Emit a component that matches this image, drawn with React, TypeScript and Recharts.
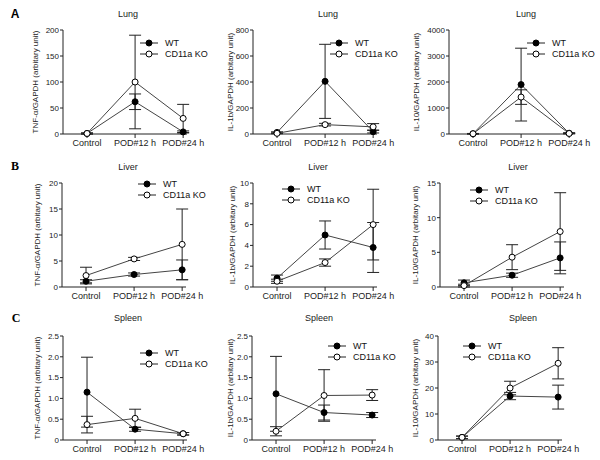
import React from "react";
import { LineChart, Line, XAxis, YAxis, ErrorBar, Legend } from "recharts";

// -------------------------------
// Data
// -------------------------------
const categories = ["Control", "POD#12 h", "POD#24 h"];
const seriesNames = ["WT", "CD11a KO"];

// Lung
const lungTnfWt = [1, 62, 4];
const lungTnfWtErr = [1, 15, 2];
const lungTnfKo = [1, 100, 30];
const lungTnfKoErr = [1, 90, 27];
const lungIl1bWt = [12, 405, 18];
const lungIl1bWtErr = [5, 285, 10];
const lungIl1bKo = [5, 72, 55];
const lungIl1bKoErr = [3, 10, 25];
const lungIl10Wt = [10, 1900, 30];
const lungIl10WtErr = [10, 1400, 20];
const lungIl10Ko = [10, 1420, 20];
const lungIl10KoErr = [10, 280, 10];

// Liver
const liverTnfWt = [1.1, 2.4, 3.3];
const liverTnfWtErr = [0.3, 0.3, 1.9];
const liverTnfKo = [2.2, 5.4, 8.2];
const liverTnfKoErr = [1.6, 0.3, 6.8];
const liverIl1bWt = [0.85, 5.0, 3.8];
const liverIl1bWtErr = [0.3, 1.35, 2.4];
const liverIl1bKo = [0.55, 2.35, 6.0];
const liverIl1bKoErr = [0.2, 0.35, 3.4];
const liverIl10Wt = [0.6, 1.7, 4.2];
const liverIl10WtErr = [0.4, 0.3, 2.3];
const liverIl10Ko = [0.2, 4.3, 8.0];
const liverIl10KoErr = [0.2, 1.8, 5.6];

// Spleen
const spleenTnfWt = [1.15, 0.26, 0.15];
const spleenTnfWtErr = [0.84, 0.05, 0.03];
const spleenTnfKo = [0.37, 0.52, 0.15];
const spleenTnfKoErr = [0.2, 0.22, 0.03];
const spleenIl1bWt = [1.11, 0.66, 0.6];
const spleenIl1bWtErr = [0.9, 0.18, 0.06];
const spleenIl1bKo = [0.21, 1.07, 1.08];
const spleenIl1bKoErr = [0.11, 0.62, 0.13];
const spleenIl10Wt = [1, 16.9, 16.5];
const spleenIl10WtErr = [0.5, 1.4, 4.6];
const spleenIl10Ko = [1, 20, 29.5];
const spleenIl10KoErr = [0.5, 2.6, 6];

// tick lists
const ticksLungTnf = [0, 50, 100, 150, 200];
const ticksLungIl1b = [0, 200, 400, 600, 800];
const ticksLungIl10 = [0, 1000, 2000, 3000, 4000];
const ticksLiverTnf = [0, 5, 10, 15, 20];
const ticksLiverIl1b = [0, 2, 4, 6, 8, 10];
const ticksLiverIl10 = [0, 5, 10, 15];
const ticksSpleen = [0, 0.5, 1.0, 1.5, 2.0, 2.5];
const ticksSpleenIl10 = [0, 10, 20, 30, 40];

// -------------------------------
// Layout constants
// -------------------------------
const FONT = "'Liberation Sans', Arial, sans-serif";
const Y_W = 50;
const M_TOP = 10;
const M_RIGHT = 25;
const X_H = 25;
const PLOT_W = 124;
const PLOT_H = 104;
const CW = Y_W + PLOT_W + M_RIGHT;
const CH = M_TOP + PLOT_H + X_H;

const TNF = "TNF-α/GAPDH (arbitary unit)";
const IL1B = "IL-1b/GAPDH (arbitary unit)";
const IL10 = "IL-10/GAPDH (arbitary unit)";

const panels = [
  { title: "Lung", yLabel: TNF, wt: lungTnfWt, wtErr: lungTnfWtErr, ko: lungTnfKo, koErr: lungTnfKoErr, ticks: ticksLungTnf,
    left: 63, top: 30, titleX: 128, titleY: 14, labelDx: 28, legX: 140, legY: 42 },
  { title: "Lung", yLabel: IL1B, wt: lungIl1bWt, wtErr: lungIl1bWtErr, ko: lungIl1bKo, koErr: lungIl1bKoErr, ticks: ticksLungIl1b,
    left: 253, top: 30, titleX: 328, titleY: 14, labelDx: 23, legX: 330, legY: 42 },
  { title: "Lung", yLabel: IL10, wt: lungIl10Wt, wtErr: lungIl10WtErr, ko: lungIl10Ko, koErr: lungIl10KoErr, ticks: ticksLungIl10,
    left: 449, top: 30, titleX: 526, titleY: 14, labelDx: 33, legX: 527, legY: 42 },
  { title: "Liver", yLabel: TNF, wt: liverTnfWt, wtErr: liverTnfWtErr, ko: liverTnfKo, koErr: liverTnfKoErr, ticks: ticksLiverTnf,
    left: 62, top: 183, titleX: 128, titleY: 167, labelDx: 25, legX: 138, legY: 183 },
  { title: "Liver", yLabel: IL1B, wt: liverIl1bWt, wtErr: liverIl1bWtErr, ko: liverIl1bKo, koErr: liverIl1bKoErr, ticks: ticksLiverIl1b,
    left: 253, top: 183, titleX: 318, titleY: 167, labelDx: 21, legX: 282, legY: 188 },
  { title: "Liver", yLabel: IL10, wt: liverIl10Wt, wtErr: liverIl10WtErr, ko: liverIl10Ko, koErr: liverIl10KoErr, ticks: ticksLiverIl10,
    left: 440, top: 183, titleX: 518, titleY: 167, labelDx: 25, legX: 470, legY: 189 },
  { title: "Spleen", yLabel: TNF, wt: spleenTnfWt, wtErr: spleenTnfWtErr, ko: spleenTnfKo, koErr: spleenTnfKoErr, ticks: ticksSpleen,
    left: 63, top: 336, titleX: 128, titleY: 318, labelDx: 26, legX: 140, legY: 352, decimals: true },
  { title: "Spleen", yLabel: IL1B, wt: spleenIl1bWt, wtErr: spleenIl1bWtErr, ko: spleenIl1bKo, koErr: spleenIl1bKoErr, ticks: ticksSpleen,
    left: 252, top: 336, titleX: 319, titleY: 318, labelDx: 22, legX: 328, legY: 345, decimals: true },
  { title: "Spleen", yLabel: IL10, wt: spleenIl10Wt, wtErr: spleenIl10WtErr, ko: spleenIl10Ko, koErr: spleenIl10KoErr, ticks: ticksSpleenIl10,
    left: 438, top: 336, titleX: 523, titleY: 318, labelDx: 23, legX: 463, legY: 345 },
];

const letters = [
  { text: "A", x: 15, y: 14, font: FONT },
  { text: "B", x: 15, y: 166, font: "'Liberation Serif', serif" },
  { text: "C", x: 16, y: 318, font: "'Liberation Serif', serif" },
];

// legend keeps WT on top, like the figure
const renderLegend = (props: any) => {
  const items = [...(props.payload || [])].sort(
    (a: any, b: any) => seriesNames.indexOf(a.value) - seriesNames.indexOf(b.value)
  );
  return (
    <div style={{ fontSize: 9, fontFamily: FONT, color: "#111" }}>
      {items.map((e: any) => (
        <div key={e.value} style={{ display: "flex", alignItems: "center", height: 11 }}>
          <svg width={18} height={8} style={{ display: "block" }}>
            <line x1={0} y1={4} x2={18} y2={4} stroke="#222" strokeWidth={1} />
            <circle cx={9} cy={4} r={3} fill={e.value === "WT" ? "#000" : "#fff"} stroke="#000" strokeWidth={1} />
          </svg>
          <span style={{ marginLeft: 7, whiteSpace: "nowrap" }}>{e.value}</span>
        </div>
      ))}
    </div>
  );
};

const Panel = ({ p }: { p: any }) => {
  const data = categories.map((c, i) => ({
    x: i,
    name: c,
    wt: p.wt[i],
    wtErr: p.wtErr[i],
    ko: p.ko[i],
    koErr: p.koErr[i],
  }));
  const left = p.left - Y_W;
  const top = p.top - M_TOP;
  const yMax = p.ticks[p.ticks.length - 1];
  const fmt = (v: number) => (p.decimals && v !== 0 ? v.toFixed(1) : String(v));

  const yLabel = (lp: any) => {
    const vb = lp.viewBox || {};
    const cx = Y_W - p.labelDx;
    const cy = (vb.y ?? M_TOP) + (vb.height ?? PLOT_H) / 2;
    return (
      <text x={cx} y={cy} transform={`rotate(-90 ${cx} ${cy})`} textAnchor="middle"
        dominantBaseline="central" fontSize={8} fontFamily={FONT} fill="#222">
        {p.yLabel}
      </text>
    );
  };

  return (
    <>
      <div style={{ position: "absolute", left, top }}>
        <LineChart width={CW} height={CH} data={data}
          margin={{ top: M_TOP, right: M_RIGHT, bottom: 0, left: 0 }}
          style={{ fontFamily: FONT, overflow: "visible" }}>
          <XAxis dataKey="x" type="number" domain={[-0.5, 2.08]} ticks={[0, 1, 2]}
            tickFormatter={(v: number) => categories[v]} interval={0} height={X_H}
            axisLine={{ stroke: "#222" }} tickLine={{ stroke: "#222" }} tickSize={4}
            tick={{ fontSize: 9, fill: "#222", fontFamily: FONT }} allowDataOverflow />
          <YAxis type="number" domain={[0, yMax]} ticks={p.ticks} tickFormatter={fmt} width={Y_W}
            axisLine={{ stroke: "#222" }} tickLine={{ stroke: "#222" }} tickSize={3} tickMargin={1}
            tick={{ fontSize: 8, fill: "#222", fontFamily: FONT }} interval={0}
            label={{ content: yLabel }} />
          <Line dataKey="wt" name="WT" stroke="#444" strokeWidth={1}
            dot={{ r: 3, fill: "#000", stroke: "#000", strokeWidth: 1 }} activeDot={false}
            isAnimationActive={false}>
            <ErrorBar dataKey="wtErr" width={6} stroke="#222" strokeWidth={1} direction="y" isAnimationActive={false} />
          </Line>
          <Line dataKey="ko" name="CD11a KO" stroke="#444" strokeWidth={1}
            dot={{ r: 3, fill: "#fff", stroke: "#000", strokeWidth: 1 }} activeDot={false}
            isAnimationActive={false}>
            <ErrorBar dataKey="koErr" width={6} stroke="#222" strokeWidth={1} direction="y" isAnimationActive={false} />
          </Line>
          <Legend layout="vertical" align="center" verticalAlign="middle" content={renderLegend}
            wrapperStyle={{ left: p.legX - left, top: p.legY - top - 5, width: "auto", height: "auto" }} />
        </LineChart>
      </div>
      <div style={{
        position: "absolute", left: p.titleX - 40, width: 80, top: p.titleY - 6,
        textAlign: "center", fontSize: 9, fontFamily: FONT, color: "#222", lineHeight: "12px",
      }}>
        {p.title}
      </div>
    </>
  );
};

export default function App() {
  return (
    <div style={{ position: "fixed", left: 0, top: 0, width: 600, height: 460, background: "#fff", overflow: "hidden" }}>
      {panels.map((p, i) => (
        <Panel key={i} p={p} />
      ))}
      {letters.map((l) => (
        <div key={l.text} style={{
          position: "absolute", left: l.x - 6, top: l.y - 8, width: 12, textAlign: "center",
          fontSize: 12, fontWeight: "bold", fontFamily: l.font, lineHeight: "16px",
        }}>
          {l.text}
        </div>
      ))}
    </div>
  );
}
